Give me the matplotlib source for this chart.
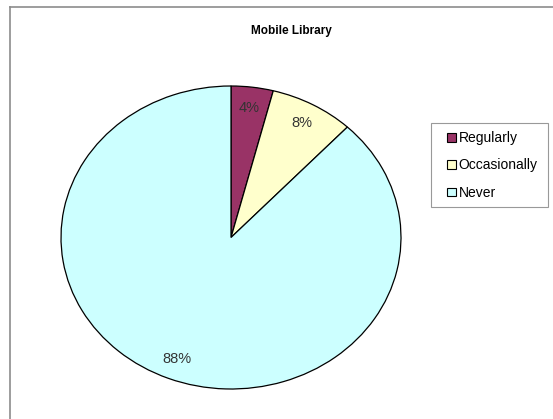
import matplotlib.pyplot as plt
from matplotlib.lines import Line2D
from matplotlib.patches import Rectangle

labels = ['Regularly', 'Occasionally', 'Never']
shares = [4, 8, 88]
colors = ['#993366', '#FFFFCC', '#CCFFFF']

W, H = 553, 419
fig = plt.figure(figsize=(W / 100, H / 100), dpi=100)
fig.patch.set_facecolor('white')

# chart-area frame (only left and top edges are visible in the crop)
fig.add_artist(Line2D([9.5 / W, 9.5 / W], [0, 1 - 7 / H], color='#8c8c8c', lw=1.2, transform=fig.transFigure))
fig.add_artist(Line2D([9.5 / W, 1], [1 - 7 / H, 1 - 7 / H], color='#8c8c8c', lw=1.2, transform=fig.transFigure))

# axes box = bounding box of the (elliptical) pie
ax = fig.add_axes([61 / W, (H - 389) / H, 340 / W, 303 / H])
wedges, texts, autotexts = ax.pie(
    shares, colors=colors, startangle=90, counterclock=False,
    autopct='%1.0f%%', pctdistance=0.86, radius=1,
    wedgeprops=dict(edgecolor='black', linewidth=0.9),
    textprops=dict(fontsize=10.5, color='#333333', family='Liberation Sans'))
ax.set_aspect('auto')
ax.set_xlim(-1, 1)
ax.set_ylim(-1, 1)
ax.axis('off')

fig.text(291 / W, 1 - 31 / H, 'Mobile Library', ha='center', va='center',
         fontsize=8.5, fontweight='bold', family='Liberation Sans')

# legend box drawn separately (Excel-style padding)
fig.add_artist(Rectangle((431 / W, 1 - 207 / H), 117 / W, 84 / H, transform=fig.transFigure,
                         facecolor='white', edgecolor='#999999', lw=0.8))
leg = fig.legend(wedges, labels, loc='upper left', bbox_to_anchor=(447 / W, 1 - 131 / H),
                 frameon=False, prop=dict(family='Liberation Sans', size=10),
                 handlelength=0.65, handleheight=0.6, handletextpad=0.2,
                 labelspacing=0.97, borderpad=0, borderaxespad=0)
for h in leg.legend_handles:
    h.set_linewidth(0.8)

fig.savefig('out.png', dpi=100)
